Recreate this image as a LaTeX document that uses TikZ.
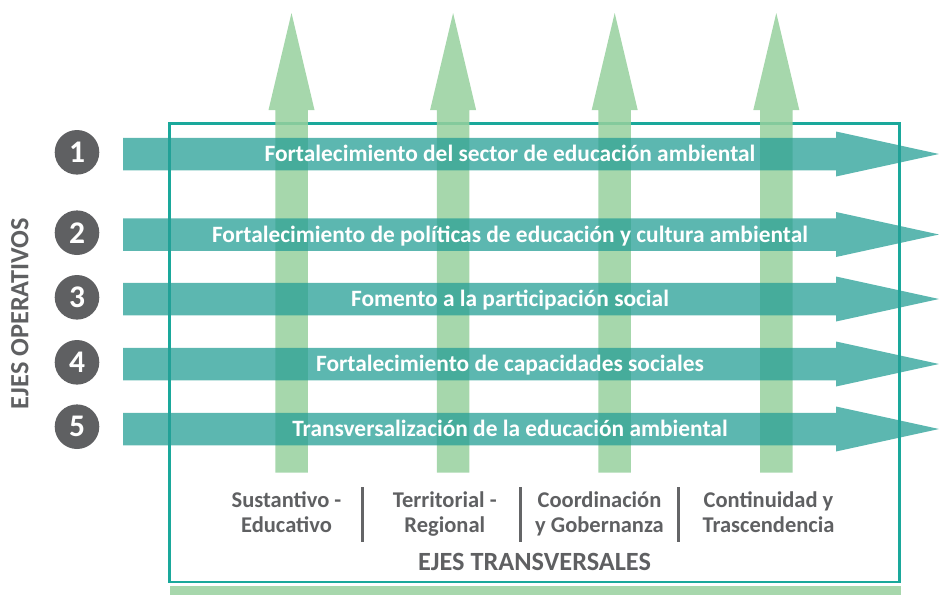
\documentclass[tikz,border=0pt]{standalone}
\usepackage{fontspec}
\setmainfont{Carlito}
\definecolor{frameteal}{RGB}{26,168,155}
\definecolor{arrgreen}{RGB}{151,208,157}
\definecolor{bargreen}{RGB}{167,215,172}
\definecolor{arrteal}{RGB}{38,159,150}
\definecolor{dgray}{RGB}{95,96,98}
\definecolor{sgray}{RGB}{100,101,103}
\tikzset{
  framebox/.style={draw=frameteal, line width=2.7pt},
  greenarrow/.style={fill=arrgreen, fill opacity=0.85, draw=none},
  tealarrow/.style={fill=arrteal, fill opacity=0.75, draw=none},
  arrtext/.style={text=white, font=\bfseries\fontsize{23.4}{27}\selectfont, anchor=base, inner sep=0pt},
  numcircle/.style={circle, fill=dgray, minimum size=44.6pt, inner sep=0pt},
  numtext/.style={text=white, font=\bfseries\fontsize{31.5}{33}\selectfont, inner sep=0pt},
  lbl/.style={text=dgray, font=\bfseries\fontsize{22.5}{25}\selectfont, anchor=base, inner sep=0pt},
  title/.style={text=dgray, font=\bfseries\fontsize{26.3}{28}\selectfont, anchor=base, inner sep=0pt},
  sepline/.style={draw=sgray, line width=3.3pt}
}
\begin{document}
\begin{tikzpicture}[x=1pt,y=-1pt]
\useasboundingbox (0,0) rectangle (939,595);
% frame
\draw[framebox] (169.7,123.2) rectangle (899.7,582);
% bottom green bar
\fill[bargreen] (170,585.5) rectangle (901,595);
% vertical green arrows
\foreach \c in {291.5,453.1,614.7,776.3}{
  \path[greenarrow] (\c-16.25,472.7) -- (\c-16.25,110) -- (\c-23,110) -- (\c,13)
     -- (\c+23,110) -- (\c+16.25,110) -- (\c+16.25,472.7) -- cycle;
}
% horizontal teal arrows
\foreach \y in {154,234.5,299,364,429}{
  \path[tealarrow] (123,\y-16.25) -- (836,\y-16.25) -- (836,\y-22.5) -- (939,\y)
     -- (836,\y+22.5) -- (836,\y+16.25) -- (123,\y+16.25) -- cycle;
}
% arrow texts
\node[arrtext] (t1) at (510,161.5) {Fortalecimiento del sector de educación ambiental};
\node[arrtext] (t2) at (510,242) {Fortalecimiento de políticas de educación y cultura ambiental};
\node[arrtext] (t3) at (510,306.5) {Fomento a la participación social};
\node[arrtext] (t4) at (510,371.5) {Fortalecimiento de capacidades sociales};
\node[arrtext] (t5) at (510,436.5) {Transversalización de la educación ambiental};
% numbered circles
\foreach \n/\y in {1/152.3,2/232.7,3/297.3,4/362.3,5/426.7}{
  \node[numcircle] (c\n) at (77,\y) {};
  \node[numtext] (n\n) at (c\n.center) {\n};
}
% EJES OPERATIVOS
\node[title, rotate=90] (eo) at (28.3,313.5) {EJES OPERATIVOS};
% bottom labels
\node[lbl] (l1a) at (286.5,507.3) {Sustantivo -};
\node[lbl] (l1b) at (286.5,532.7) {Educativo};
\node[lbl] (l2a) at (444.8,507.3) {Territorial -};
\node[lbl] (l2b) at (444.8,532.7) {Regional};
\node[lbl] (l3a) at (599.5,507.3) {Coordinación};
\node[lbl] (l3b) at (599.5,532.7) {y Gobernanza};
\node[lbl] (l4a) at (768.5,507.3) {Continuidad y};
\node[lbl] (l4b) at (768.5,532.7) {Trascendencia};
% separators
\coordinate (s1t) at (362.7,487.3); \coordinate (s1b) at (362.7,541.7);
\coordinate (s2t) at (520.7,487.3); \coordinate (s2b) at (520.7,541.7);
\coordinate (s3t) at (678.3,487.3); \coordinate (s3b) at (678.3,541.7);
\draw[sepline] (s1t) -- (s1b);
\draw[sepline] (s2t) -- (s2b);
\draw[sepline] (s3t) -- (s3b);
% EJES TRANSVERSALES
\node[title] (et) at (534.5,570) {EJES TRANSVERSALES};
\end{tikzpicture}
\end{document}
